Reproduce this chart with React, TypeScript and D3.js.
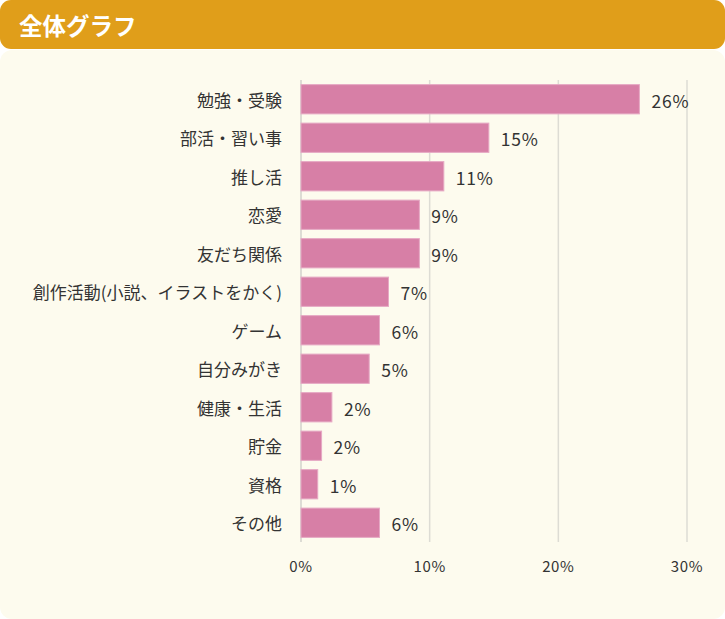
import { useEffect, useRef } from "react";
import * as d3 from "d3";

const title = "全体グラフ";
const categories = [
  "勉強・受験",
  "部活・習い事",
  "推し活",
  "恋愛",
  "友だち関係",
  "創作活動(小説、イラストをかく)",
  "ゲーム",
  "自分みがき",
  "健康・生活",
  "貯金",
  "資格",
  "その他",
];
const values = [26.3, 14.6, 11.1, 9.2, 9.2, 6.8, 6.1, 5.3, 2.4, 1.6, 1.3, 6.1];
const valueLabels = ["26%", "15%", "11%", "9%", "9%", "7%", "6%", "5%", "2%", "2%", "1%", "6%"];
const xTicks = [0, 10, 20, 30];

const width = 725;
const height = 619;
const font = "'Noto Sans CJK JP', 'Noto Sans', sans-serif";

export default function App() {
  const svgRef = useRef(null);

  useEffect(() => {
    const svg = d3.select(svgRef.current);
    svg.selectAll("*").remove();

    // Panels
    svg
      .append("rect")
      .attr("x", 0)
      .attr("y", 50)
      .attr("width", width)
      .attr("height", height - 50)
      .attr("rx", 12)
      .attr("fill", "#fdfbee");
    svg
      .append("rect")
      .attr("x", 0)
      .attr("y", 0)
      .attr("width", width)
      .attr("height", 49)
      .attr("rx", 11)
      .attr("fill", "#e09e1a");
    svg
      .append("text")
      .attr("x", 19)
      .attr("y", 25)
      .attr("dominant-baseline", "central")
      .attr("fill", "#fff")
      .attr("font-size", 23.5)
      .attr("font-weight", "bold")
      .attr("font-family", font)
      .text(title);

    const xScale = d3.scaleLinear().domain([0, 30]).range([301, 687]);
    const yScale = d3
      .scaleBand()
      .domain(categories)
      .range([80, 542])
      .paddingInner(0.24)
      .paddingOuter(0.12);

    // Grid
    svg
      .append("g")
      .selectAll("line")
      .data(xTicks)
      .join("line")
      .attr("x1", (d) => xScale(d))
      .attr("x2", (d) => xScale(d))
      .attr("y1", 80)
      .attr("y2", 542)
      .attr("stroke", "#dddcd4")
      .attr("stroke-width", (d) => (d === 0 ? 2 : 1.5));

    // Tick labels
    svg
      .append("g")
      .selectAll("text")
      .data(xTicks)
      .join("text")
      .attr("x", (d) => xScale(d))
      .attr("y", 565)
      .attr("text-anchor", "middle")
      .attr("dominant-baseline", "central")
      .attr("font-size", 15)
      .attr("letter-spacing", 0.6)
      .attr("font-family", font)
      .attr("fill", "#333")
      .text((d) => `${d}%`);

    // Category labels
    svg
      .append("g")
      .selectAll("text")
      .data(categories)
      .join("text")
      .attr("x", 282)
      .attr("y", (d) => (yScale(d) as number) + yScale.bandwidth() / 2)
      .attr("text-anchor", "end")
      .attr("dominant-baseline", "central")
      .attr("font-size", 17)
      .attr("font-family", font)
      .attr("fill", "#333")
      .text((d) => d);

    // Bars
    svg
      .append("g")
      .selectAll("rect")
      .data(values)
      .join("rect")
      .attr("x", xScale(0))
      .attr("y", (_, i) => yScale(categories[i]) as number)
      .attr("width", (d) => xScale(d) - xScale(0))
      .attr("height", yScale.bandwidth())
      .attr("fill", "#d77fa6")
      .attr("stroke", "#e6a9c4")
      .attr("stroke-width", 1);

    // Value labels
    svg
      .append("g")
      .selectAll("text")
      .data(values)
      .join("text")
      .attr("x", (d) => xScale(d) + 12)
      .attr("y", (_, i) => (yScale(categories[i]) as number) + yScale.bandwidth() / 2 + 1)
      .attr("dominant-baseline", "central")
      .attr("font-size", 17.5)
      .attr("letter-spacing", 0.8)
      .attr("font-family", font)
      .attr("fill", "#333")
      .text((_, i) => valueLabels[i]);
  }, []);

  return (
    <svg
      ref={svgRef}
      width={width}
      height={height}
      style={{ position: "absolute", left: 0, top: 0, background: "#fff" }}
    />
  );
}
